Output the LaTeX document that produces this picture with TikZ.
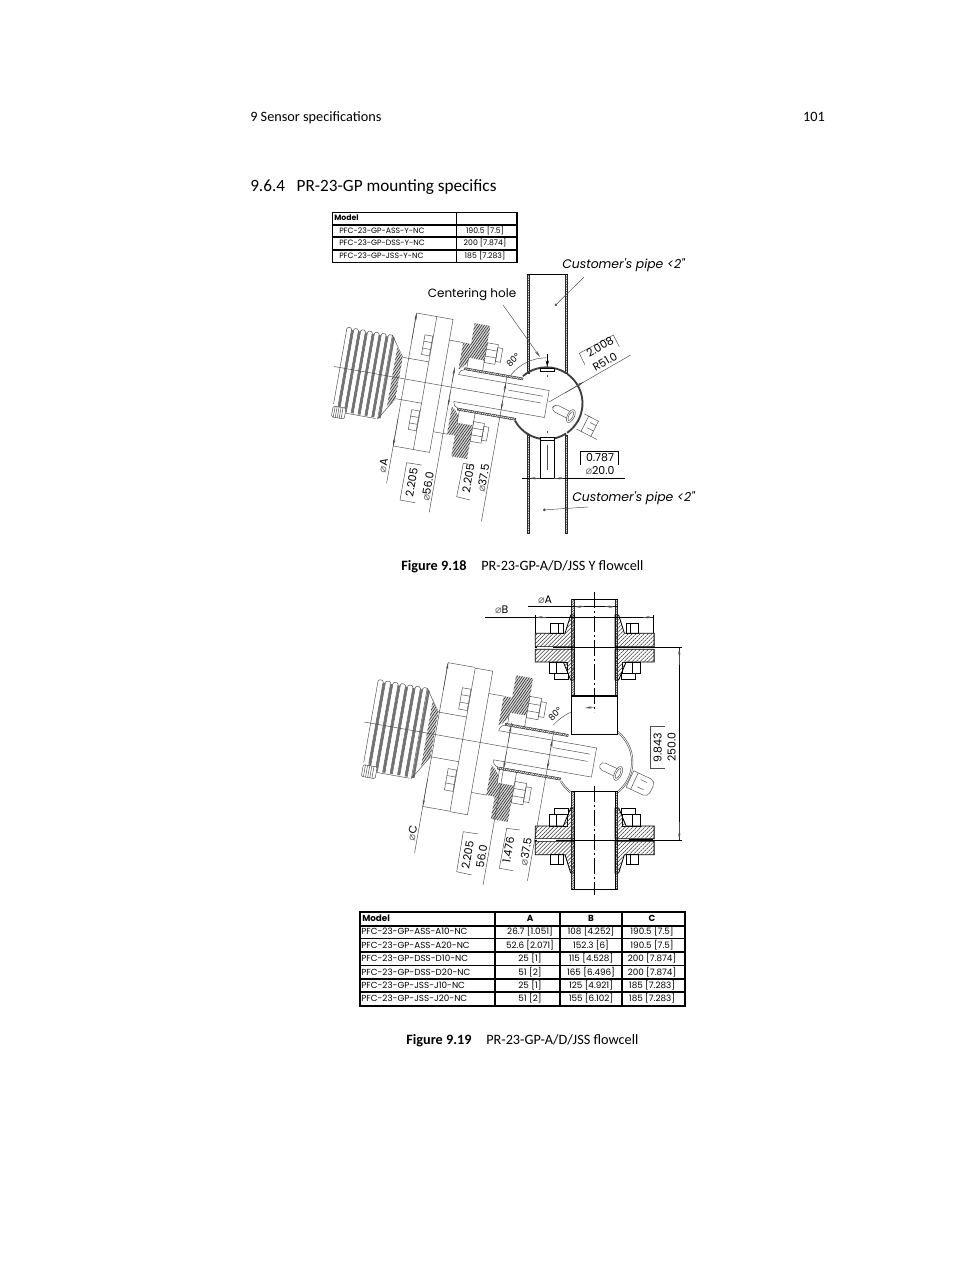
\documentclass[tikz,border=0pt]{standalone}
\usepackage{fontspec}
\setmainfont{Carlito}
\newfontfamily\dwg{Poppins}
\newfontfamily\djv{DejaVu Sans}
\usetikzlibrary{patterns.meta,arrows.meta}
\newcommand\dia{{\djv\textcolor{black!60}{⌀}}}
\tikzset{
 thinl/.style={draw=black!70,line width=0.35pt},
 thickl/.style={draw=black,line width=1pt},
 midl/.style={draw=black,line width=0.6pt},
 hatchA/.style={preaction={fill=black!15},pattern={Lines[angle=55,distance=1.6pt,line width=0.5pt]},pattern color=black!80},
 hatchB/.style={pattern={Lines[angle=45,distance=2.1pt,line width=0.4pt]},pattern color=black!80},
 wall/.style={pattern={Lines[angle=45,distance=1.3pt,line width=0.5pt]},pattern color=black!70,draw=black!85,line width=0.35pt},
 tip/.style={thinl,-{Stealth[length=5pt,width=1.7pt]}},
 dt/.style={font=\dwg\fontsize{8.2}{9}\selectfont,inner sep=0pt},
 dtsm/.style={font=\dwg\fontsize{6.5}{8}\selectfont,inner sep=0pt},
 cust/.style={font=\dwg\itshape\fontsize{9.3}{10}\selectfont,inner sep=0pt,anchor=west},
 tb/.style={font=\dwg\fontsize{6.6}{7}\selectfont,inner sep=0pt},
 tbh/.style={font=\dwg\bfseries\fontsize{6.6}{7}\selectfont,inner sep=0pt},
 tc/.style={font=\dwg\fontsize{5.8}{7}\selectfont,inner sep=0pt},
 page/.style={font=\fontsize{10.7}{12}\selectfont,inner sep=0pt,anchor=base west},
 sensor/.pic={
  % bellows
  \foreach \k in {0,...,6}{
    \pgfmathsetmacro\a{-210+7*\k}
    \pgfmathsetmacro\b{\a+4.8}
    \pgfmathsetmacro\c{\a+6.8}
    \pgfmathsetmacro\e{\k==0?37:43}
    \draw[thinl,rounded corners=1pt] (\a,\e)--(\a,-41)--(\b,-41)--(\b,\e);
    \fill[black!55] (\b,-39)rectangle(\c,43);
  }
  \draw[thinl] (-204,41)--(-204,44)--(-166,44);
  % knob
  \draw[thinl,fill=white,rounded corners=1pt] (-210,39)rectangle(-197,50);
  \foreach \a in {-208,-206,-204,-202,-200}{\draw[thinl] (\a,39)--(\a,50);}
  % cone
  \draw[thinl] (-164,-41)--(-150,-21)--(-123.5,-21) (-164,44)--(-150,21)--(-123.5,21);
  \draw[thinl] (-164,-41)--(-164,44);
  \path[hatchA] (-157,-31)--(-150,-21)--(-150,21)--(-157,31)--cycle;
  % flange
  \draw[thinl] (-123.5,-67)rectangle(-107,68);
  \foreach \v in {-37,39}{
   \draw[thinl] (-132,\v-10)rectangle(-124,\v+10);
   \draw[thinl] (-132,\v-3.5)--(-124,\v-3.5) (-132,\v+3.5)--(-124,\v+3.5);
  }
  \draw[thinl] (-107,-46)--(-93,-46) (-107,47)--(-93,47);
  % collars
  \path[hatchA] (-93,-46)--(-85,-46)--(-85,-27)--(-90,-21)--(-93,-19)--cycle;
  \path[hatchA] (-93,47)--(-85,47)--(-85,27)--(-90,21)--(-93,19)--cycle;
  % blocks
  \path[hatchA] (-85,-67)rectangle(-69,-32);
  \path[hatchA] (-85,34)rectangle(-69,68);
  \draw[thinl] (-85,-32)--(-85,-21) (-85,34)--(-85,21) (-69,-32)--(-69,-21) (-69,34)--(-69,21);
  % nuts
  \foreach \v in {-40,40}{
   \draw[thinl] (-69,\v-10)rectangle(-58,\v+10);
   \draw[thinl] (-69,\v-3.5)--(-58,\v-3.5) (-69,\v+3.5)--(-58,\v+3.5);
   \draw[thinl] (-58,\v-7)rectangle(-53,\v+7);
  }
  % tube
  \path[wall] (-87,-21.5)--(-28,-21.5)--(-28,-19.5)--(-87,-19.5)--cycle;
  \path[wall] (-87,19.5)--(-28,19.5)--(-28,21.5)--(-87,21.5)--cycle;
  \draw[thinl] (-87,-19.5) to[out=180,in=90] (-92,-13.7);
  \draw[thinl] (-87,19.5) to[out=180,in=-90] (-92,13.7);
  % probe
  \draw[thinl] (-92,-13.7)--(0,-13.7)--(0,13.7)--(-92,13.7);
  \draw[thinl] (-216,0)--(-6,0);
  \draw[thinl] (-40,-7)--(-5,-7);
 },
 halfflange/.pic={
  \draw[midl,fill=white] (-44,-24.4)rectangle(-31.4,-14.4);
  \draw[midl] (-36,-24.4)--(-36,-14.4);
  \draw[midl,fill=white] (-45.4,14.3)rectangle(-27.7,25.6);
  \draw[midl] (-38,14.3)--(-38,25.6);
  \draw[midl,fill=white] (-40.7,25.6)rectangle(-26.7,31.6);
  \path[hatchB,draw=black,line width=0.6pt] (-20.4,-32.7)--(-24,-32.7)--(-29.7,-14.4)--(-59.4,-14.4)--(-59.4,-1)--(-20.4,-1)--cycle;
  \path[hatchB,draw=black,line width=0.6pt] (-59.4,1.6)--(-59.4,14.3)--(-31.4,14.3)--(-24,32.3)--(-20.4,32.3)--(-20.4,1.6)--cycle;
 }
}
\begin{document}
\begin{tikzpicture}[x=0.75pt,y=-0.75pt]
\useasboundingbox (0,0) rectangle (954,1270);
\fill[white] (0,0) rectangle (954,1270);
% page text
\node[page] (hd) at (250,121.5) {9 Sensor specifications};
\node[page,anchor=base east] (pn) at (825,121.5) {101};
\node[page,font=\fontsize{12.9}{14}\selectfont] (sec) at (250,191.5) {9.6.4\hspace{0.45em} PR-23-GP mounting specifics};
\node[page] (c1a) at (401,570.5) {\textbf{Figure 9.18}};
\node[page] (c1b) at (481,570.5) {PR-23-GP-A/D/JSS Y flowcell};
\node[page] (c2a) at (406,1044.5) {\textbf{Figure 9.19}};
\node[page] (c2b) at (486,1044.5) {PR-23-GP-A/D/JSS flowcell};
% table 1
\draw[thickl,line width=1.1pt] (332.5,212.5) rectangle (517,262.5);
\draw[thickl] (332.5,225)--(517,225) (332.5,237)--(517,237) (332.5,250)--(517,250) (456.5,212.5)--(456.5,262.5);
\node[tc,anchor=west,font=\dwg\bfseries\fontsize{5.8}{7}\selectfont] (t1m) at (334,218) {Model};
\node[tc,anchor=west] (t1a) at (339,230.5) {PFC-23-GP-ASS-Y-NC};
\node[tc,anchor=west] (t1b) at (339,243) {PFC-23-GP-DSS-Y-NC};
\node[tc,anchor=west] (t1c) at (339,255.5) {PFC-23-GP-JSS-Y-NC};
\node[tc] (t1d) at (485,230.5) {190.5 [7.5]};
\node[tc] (t1e) at (485,243) {200 [7.874]};
\node[tc] (t1f) at (485,255.5) {185 [7.283]};
% figure 1
\begin{scope}[shift={(546.8,404)},rotate=-10]
 \pic[transform shape] {sensor};
 \draw[thinl] (-144,-67)--(-123.5,-67) (-144,68)--(-123.5,68) (-144,-67)--(-144,106);
 \draw[tip] (-144,-40)--(-144,-67);
 \draw[tip] (-144,40)--(-144,68);
 \draw[thinl] (-97,-20)--(-97,127);
 \draw[tip] (-97,-5)--(-97,-20);
 \draw[tip] (-97,5)--(-97,19);
 \draw[thinl] (-44,-21)--(-44,127);
 \draw[tip] (-44,-4)--(-44,-13.7);
 \draw[tip] (-44,4)--(-44,13.7);
\end{scope}
% pipes
\path[wall] (527,274)rectangle(529.5,373);
\path[wall] (565,274)rectangle(567.5,373);
\draw[midl] (527,274)--(567.5,274);
\path[wall] (527,435)rectangle(529.5,533);
\path[wall] (565,435)rectangle(567.5,533);
% sphere
\begin{scope}[shift={(546.5,403.3)}]
 \foreach \p/\q in {-55/55,-123/-57,-131/-123,120/151,57/123}{
  \draw[black!75,line width=1.4pt] (\p:36) arc[start angle=\p,end angle=\q,radius=36];
 }
 \draw[thinl] (-90:45.5) arc[start angle=-90,end angle=-142,radius=45.5];
\end{scope}
\draw[midl,fill=white] (540.3,368.3)rectangle(554,371.7);
\draw[midl,fill=white] (540.3,437.7)rectangle(554,440);
\draw[draw=black,line width=0.45pt] (540.3,441)--(540.3,479) (554,441)--(554,479);
\draw[thinl] (547.3,375)--(547.3,377) (547.3,431)--(547.3,433) (547.3,445)--(547.3,470);
\draw[black,line width=0.5pt,-{Stealth[length=5pt,width=2.5pt]}] (547.3,354)--(547.3,367);
% plug
\begin{scope}[shift={(553,407)},rotate=-27]
 \draw[thinl,rounded corners=3pt] (0,-3.7)rectangle(21,3.7);
 \draw[thinl,fill=white] (20,0) ellipse[x radius=3.5,y radius=7];
 \draw[thinl] (20,0) ellipse[x radius=2,y radius=5];
 \draw[thinl] (31,-8)--(47,-8)--(47,9)--(31,9);
 \draw[thinl] (36,-8)--(36,9) (40,-3)--(47,-3) (40,3)--(47,3);
 \draw[thinl] (47,9)--(54,9);
\end{scope}
% fig 1 leaders / dims
\draw[thinl,-{Stealth[length=5pt,width=1.7pt]}] (503,305)--(540,357);
\draw[thinl,-{Circle[length=2pt]}] (584,277)--(555,305.7);
\draw[thinl,-{Circle[length=2pt]}] (588,507)--(543,510);
\draw[thinl] (549,402)--(630.7,355);
\draw[tip] (565,393)--(584,381.7);
\draw[midl] (522,478.3)--(625,478.3);
\draw[tip] (540.3,478.3)--(529,478.3);
\draw[tip] (554,478.3)--(565,478.3);
\draw[midl,line width=0.5pt] (618.3,465)--(618.3,451.7)--(580.7,451.7)--(580.7,465);
\draw[thinl] (585,365)--(579.3,353.3)--(613.3,335)--(619.3,346.7);
\draw[thinl] (421.7,465)--(406.7,462.7)--(400,500)--(415,502.7);
\draw[thinl] (474,465)--(463.3,463.3)--(456.7,496.7)--(470,500);
\node[dt,font=\dwg\fontsize{9}{10}\selectfont] (n1) at (472,295) {Centering hole};
\node[cust] (n2) at (562,265) {Customer's pipe <2"};
\node[cust] (n3) at (572,498) {Customer's pipe <2"};
\node[dtsm,rotate=45] (n4) at (513,360) {80°};
\node[dt,rotate=30] (n5) at (600,346.7) {2.008};
\node[dt,rotate=30] (n6) at (605,361.7) {R51.0};
\node[dt] (n7) at (600,458) {0.787};
\node[dt] (n8) at (600,471) {\dia 20.0};
\node[dt,rotate=80] (n9) at (383.3,465.7) {\dia A};
\node[dt,rotate=80] (n10) at (411.7,482.3) {2.205};
\node[dt,rotate=80] (n11) at (427.7,486.7) {\dia 56.0};
\node[dt,rotate=80] (n12) at (468.3,478.3) {2.205};
\node[dt,rotate=80] (n13) at (483.3,478.3) {\dia 37.5};
% figure 2
\begin{scope}[shift={(594,762.5)},rotate=-10,scale=1.08]
 \pic[transform shape] {sensor};
\end{scope}
\begin{scope}[shift={(594,762.5)},rotate=-10]
 \draw[thinl] (-161,-73)--(-134,-73) (-161,73)--(-134,73) (-161,-73)--(-161,120);
 \draw[tip] (-161,-45)--(-161,-73);
 \draw[tip] (-161,45)--(-161,73);
 \draw[thinl] (-88,-25)--(-88,140);
 \draw[tip] (-88,-5)--(-88,-22);
 \draw[tip] (-88,5)--(-88,22);
 \draw[thinl] (-45,-25)--(-45,128);
 \draw[tip] (-45,-5)--(-45,-15);
 \draw[tip] (-45,5)--(-45,15);
\end{scope}
\begin{scope}[shift={(594,762)}]
 \foreach \r in {37.5,39}{
 \draw[thinl] (-52:\r) arc[start angle=-52,end angle=52,radius=\r];
 \draw[thinl] (128:\r) arc[start angle=128,end angle=150,radius=\r];}
 \draw[thinl] (-90:55) arc[start angle=-90,end angle=-138,radius=55];
\end{scope}
% plug fig 2
\begin{scope}[shift={(600,765)},rotate=-25]
 \draw[thinl,rounded corners=3pt] (0,-4)rectangle(21,4);
 \draw[thinl,fill=white] (20,0) ellipse[x radius=3.5,y radius=7.5];
 \draw[thinl] (20,0) ellipse[x radius=2,y radius=5.5];
 \draw[thinl,rounded corners=4pt] (33,-9)--(57,-9)--(57,9)--(33,9);
 \draw[thinl] (33,-9)--(33,9) (38,-9)--(38,9) (43,-4)--(50,-4) (43,4)--(50,4);
\end{scope}
% fig 2 pipes
\draw[fill=white,draw=none] (574.3,599.3)rectangle(615,696);
\path[wall] (571.7,599.3)rectangle(574.3,696);
\path[wall] (615,599.3)rectangle(617.7,696);
\draw[fill=white,draw=none] (574.3,791.7)rectangle(615,889.3);
\path[wall] (571.7,791.7)rectangle(574.3,889.3);
\path[wall] (615,791.7)rectangle(617.7,889.3);
\draw[thickl,fill=white] (571.7,696)rectangle(617.5,734.3);
\draw[midl] (571.7,599.3)--(617.7,599.3) (571.7,791.7)--(617.7,791.7) (571.7,889.3)--(617.7,889.3);
\draw[midl] (574.3,791.7)--(574.3,889.3) (615,791.7)--(615,889.3);
% flanges
\begin{scope}[shift={(594.7,647.7)}]\pic[transform shape] {halfflange};\end{scope}
\begin{scope}[shift={(594.7,647.7)},xscale=-1]\pic[transform shape] {halfflange};\end{scope}
\begin{scope}[shift={(594.7,840.3)},yscale=-1]\pic[transform shape] {halfflange};\end{scope}
\begin{scope}[shift={(594.7,840.3)},scale=-1]\pic[transform shape] {halfflange};\end{scope}
% center lines and dims
\draw[midl,dash pattern=on 12pt off 2pt on 2pt off 2pt] (594.7,592)--(594.7,712);
\draw[midl,dash pattern=on 12pt off 2pt on 2pt off 2pt] (594.3,786)--(594.3,895);
\draw[tip] (594.7,707)--(585,708);
\draw[midl,line width=0.5pt] (535.3,647.7)--(681.7,647.7);
\draw[midl,line width=0.5pt] (535.3,840.3)--(681.7,840.3);
\draw[black,line width=1.4pt] (629,840.3)--(653,840.3);
\draw[white,line width=0.9pt] (537,647.7)--(553,647.7) (537,840)--(556,840);
\draw[midl,line width=0.5pt] (679.3,647.7)--(679.3,840.3);
\draw[tip] (679.3,665)--(679.3,648);
\draw[tip] (679.3,822)--(679.3,840);
\draw[midl,line width=0.5pt] (527.7,606.7)--(617.7,606.7);
\draw[tip] (584,606.7)--(574.5,606.7);
\draw[tip] (605,606.7)--(615,606.7);
\draw[midl,line width=0.5pt] (485,617.3)--(653.7,617.3);
\draw[midl,line width=0.4pt] (535.3,615)--(535.3,633.3) (653.7,615)--(653.7,633.3);
\draw[tip] (546,617.3)--(536,617.3);
\draw[tip] (643,617.3)--(653,617.3);
\draw[thinl] (665,726.7)--(650,726.7)--(650,768.3)--(665,768.3);
\draw[thinl] (478.3,834)--(463.3,831.7)--(456.7,871.7)--(471.7,875);
\draw[thinl] (520,830)--(506.7,828.3)--(499.3,868.3)--(513.3,870.7);
\node[dt] (m1) at (545,600) {\dia A};
\node[dt] (m2) at (501.7,610) {\dia B};
\node[dtsm,rotate=45] (m3) at (555,714) {80°};
\node[dt,rotate=90] (m4) at (657.7,748) {9.843};
\node[dt,rotate=90] (m5) at (671.5,747) {250.0};
\node[dt,rotate=80] (m6) at (412.3,833.3) {\dia C};
\node[dt,rotate=80] (m7) at (467.7,855) {2.205};
\node[dt,rotate=80] (m8) at (481.7,856.7) {56.0};
\node[dt,rotate=80] (m9) at (508.3,850) {1.476};
\node[dt,rotate=80] (m10) at (525.7,851.7) {\dia 37.5};
% table 2
\draw[thickl,line width=1.2pt] (360,912)rectangle(685,1006);
\draw[thickl] (360,926)--(685,926) (360,938.5)--(685,938.5) (360,952)--(685,952) (360,965.5)--(685,965.5) (360,979)--(685,979) (360,992)--(685,992);
\draw[thickl] (495,912)--(495,1006) (560,912)--(560,1006) (622,912)--(622,1006);
\node[tbh,anchor=west] (h0) at (362,918) {Model};
\node[tbh] (h1) at (530,918) {A};
\node[tbh] (h2) at (591,918) {B};
\node[tbh] (h3) at (652,918) {C};
\node[tb,anchor=west] (r1) at (361,931) {PFC-23-GP-ASS-A10-NC};
\node[tb,anchor=west] (r2) at (361,945) {PFC-23-GP-ASS-A20-NC};
\node[tb,anchor=west] (r3) at (361,958) {PFC-23-GP-DSS-D10-NC};
\node[tb,anchor=west] (r4) at (361,972) {PFC-23-GP-DSS-D20-NC};
\node[tb,anchor=west] (r5) at (361,985) {PFC-23-GP-JSS-J10-NC};
\node[tb,anchor=west] (r6) at (361,998) {PFC-23-GP-JSS-J20-NC};
\node[tb] (a1) at (530,931) {26.7 [1.051]};
\node[tb] (a2) at (530,945) {52.6 [2.071]};
\node[tb] (a3) at (530,958) {25 [1]};
\node[tb] (a4) at (530,972) {51 [2]};
\node[tb] (a5) at (530,985) {25 [1]};
\node[tb] (a6) at (530,998) {51 [2]};
\node[tb] (b1) at (591,931) {108 [4.252]};
\node[tb] (b2) at (591,945) {152.3 [6]};
\node[tb] (b3) at (591,958) {115 [4.528]};
\node[tb] (b4) at (591,972) {165 [6.496]};
\node[tb] (b5) at (591,985) {125 [4.921]};
\node[tb] (b6) at (591,998) {155 [6.102]};
\node[tb] (d1) at (652,931.5) {190.5 [7.5]};
\node[tb] (d2) at (652,945.5) {190.5 [7.5]};
\node[tb] (d3) at (652,958.5) {200 [7.874]};
\node[tb] (d4) at (652,972) {200 [7.874]};
\node[tb] (d5) at (652,985) {185 [7.283]};
\node[tb] (d6) at (652,998.5) {185 [7.283]};
\end{tikzpicture}
\end{document}
